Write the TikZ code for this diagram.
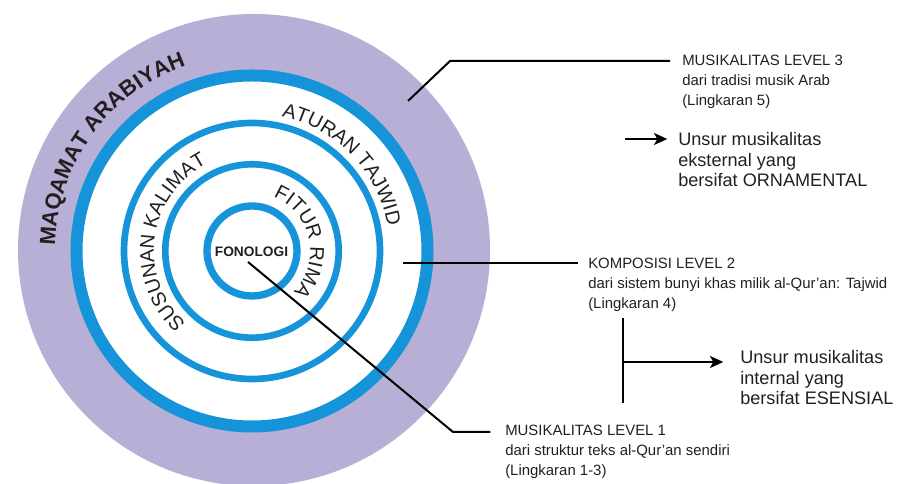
\documentclass[tikz,border=0pt]{standalone}
\usepackage{fontspec}
\setmainfont{Liberation Sans}
\usetikzlibrary{decorations.text,arrows.meta}

\definecolor{ringblue}{RGB}{22,148,218}
\definecolor{maqamlilac}{RGB}{183,175,213}
\definecolor{inkgray}{RGB}{35,31,32}

\newcommand{\maqfont}{\fontsize{16.5}{18}\selectfont\bfseries}
\newcommand{\ringfont}{\fontsize{15}{17}\selectfont}
\newcommand{\lvlfont}{\fontsize{11.2}{15}\selectfont}
\newcommand{\unsfont}{\fontsize{13.6}{15.5}\selectfont}

\tikzset{
  ring/.style={draw=ringblue, line width=#1},
  leader/.style={draw=black, line width=1.5pt},
  arrowline/.style={leader, -{Stealth[length=10pt,width=9pt,inset=2.5pt]}},
  lvl/.style={anchor=north west, inner sep=0pt, align=left, text=inkgray, font=\lvlfont},
  uns/.style={anchor=north west, inner sep=0pt, align=left, text=inkgray, font=\unsfont},
  curved/.style={decorate, decoration={text along path, text align=center, text color=inkgray, text={#1}}},
}

\begin{document}
\begin{tikzpicture}[x=0.75pt, y=0.75pt]
    \useasboundingbox (0,0) rectangle (915,484);

    % --- RINGS ---
    \coordinate (C) at (252,233);
    \fill[maqamlilac] (254,234) circle (236);
    \fill[white] (C) circle (175.5);
    \draw[ring=9pt] (C) circle (175.5);
    \foreach \r/\w in {128/5pt, 86.7/5pt, 45/5.5pt} \draw[ring=\w] (C) circle (\r);

    % Ring names along the arcs
    \path[curved=|\maqfont|MAQAMAT ARABIYAH] (C) ++(184:197) arc[start angle=184, end angle=104, radius=197];
    \path[curved=|\ringfont|ATURAN TAJWID] (C) ++(85:138) arc[start angle=85, end angle=3, radius=138];
    \path[curved=|\ringfont|SUSUNAN KALIMAT] (C) ++(232:98) arc[start angle=232, end angle=113, radius=98];
    \path[curved=|\ringfont|FITUR RIMA] (C) ++(70:58) arc[start angle=70, end angle=-46, radius=58];
    \node[font=\fontsize{10.3}{12}\selectfont\bfseries, text=inkgray] (fono) at (251.5,232) {FONOLOGI};

    % --- LEVEL LABELS ---
    \node[lvl] (lev3) at (682,429.5) {MUSIKALITAS LEVEL 3\\dari tradisi musik Arab\\(Lingkaran 5)};
    \node[uns] (ext) at (678,352) {Unsur musikalitas\\eksternal yang\\bersifat ORNAMENTAL};
    \node[lvl] (lev2) at (588,226.5) {KOMPOSISI LEVEL 2\\dari sistem bunyi khas milik al-Qur'an: Tajwid\\(Lingkaran 4)};
    \node[uns] (int) at (740,134) {Unsur musikalitas\\internal yang\\bersifat ESENSIAL};
    \node[lvl] (lev1) at (505,59.5) {MUSIKALITAS LEVEL 1\\dari struktur teks al-Qur'an sendiri\\(Lingkaran 1-3)};

    % --- LEADERS ---
    \coordinate (p3) at (408,383); \coordinate (b3) at (450,423);
    \coordinate (p2) at (403,221);
    \coordinate (p1) at (248,222); \coordinate (b1) at (453,52);
    \draw[leader, shorten >=9pt] (p3) -- (b3) -- (b3 -| lev3.west);
    \draw[leader, shorten >=7.5pt] (p2) -- (p2 -| lev2.west);
    \draw[leader, shorten >=11pt] (p1) -- (b1) -- (b1 -| lev1.west);

    % Arrows to the two kinds of musicality
    \coordinate (a3) at (625,345);
    \draw[arrowline, shorten >=8pt] (a3) -- (a3 -| ext.west);
    \coordinate (vt) at (623,166); \coordinate (vb) at (623,81); \coordinate (vm) at (623,122);
    \draw[leader] (vt) -- (vb);
    \draw[arrowline, shorten >=12.5pt] (vm) -- (vm -| int.west);
\end{tikzpicture}
\end{document}
